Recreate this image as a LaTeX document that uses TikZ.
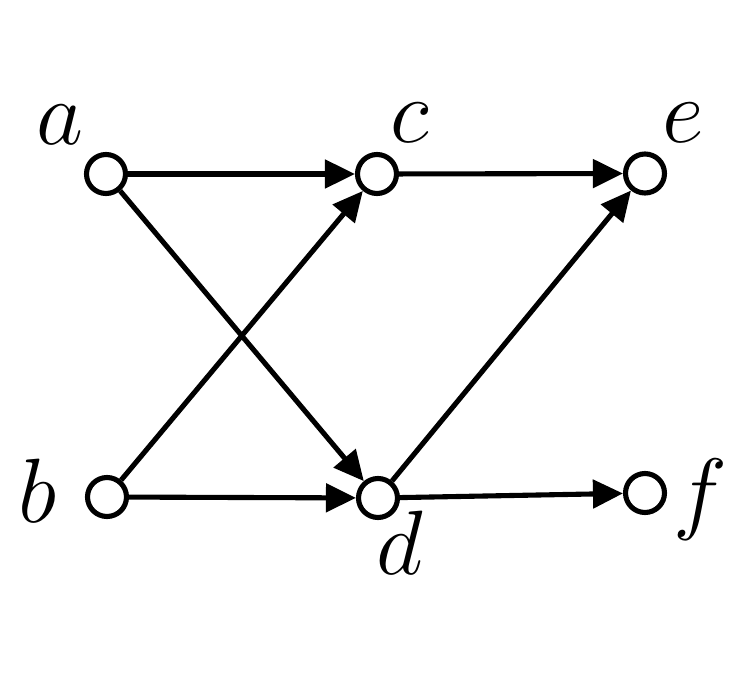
\documentclass[tikz,border=0pt]{standalone}
\usepackage{fix-cm}
\usetikzlibrary{arrows.meta}
\begin{document}
\begin{tikzpicture}[
    vertex/.style={circle,draw,line width=2.9pt,minimum size=0.78cm,inner sep=0pt},
    lbl/.style={inner sep=0pt,font=\fontsize{52}{62}\selectfont},
    every path/.style={line width=2.9pt},
    >={Triangle[length=0.6cm,width=0.56cm]}]
        \useasboundingbox (0,0) rectangle (14.96,13.5);
        \node[vertex] (a) at (2.12,10.02) {};
        \node[vertex] (c) at (7.54,10.02) {};
        \node[vertex] (e) at (12.9,10.03) {};
        \node[vertex] (b) at (2.14,3.56) {};
        \node[vertex] (d) at (7.56,3.54) {};
        \node[vertex] (f) at (12.9,3.64) {};
        \node[lbl] (la) at (1.2,11.0) {$a$};
        \node[lbl] (lc) at (8.2,11.04) {$c$};
        \node[lbl] (le) at (13.66,11.04) {$e$};
        \node[lbl] (lb) at (0.76,3.68) {$b$};
        \node[lbl] (ld) at (8.0,2.64) {$d$};
        \node[lbl] (lf) at (14.0,3.5) {$f$};
        \draw[->] (a) -- (c);
        \draw[->] (c) -- (e);
        \draw[->] (a) -- (d);
        \draw[->] (b) -- (c);
        \draw[->] (b) -- (d);
        \draw[->] (d) -- (e);
        \draw[->] (d) -- (f);
      \end{tikzpicture}
\end{document}
